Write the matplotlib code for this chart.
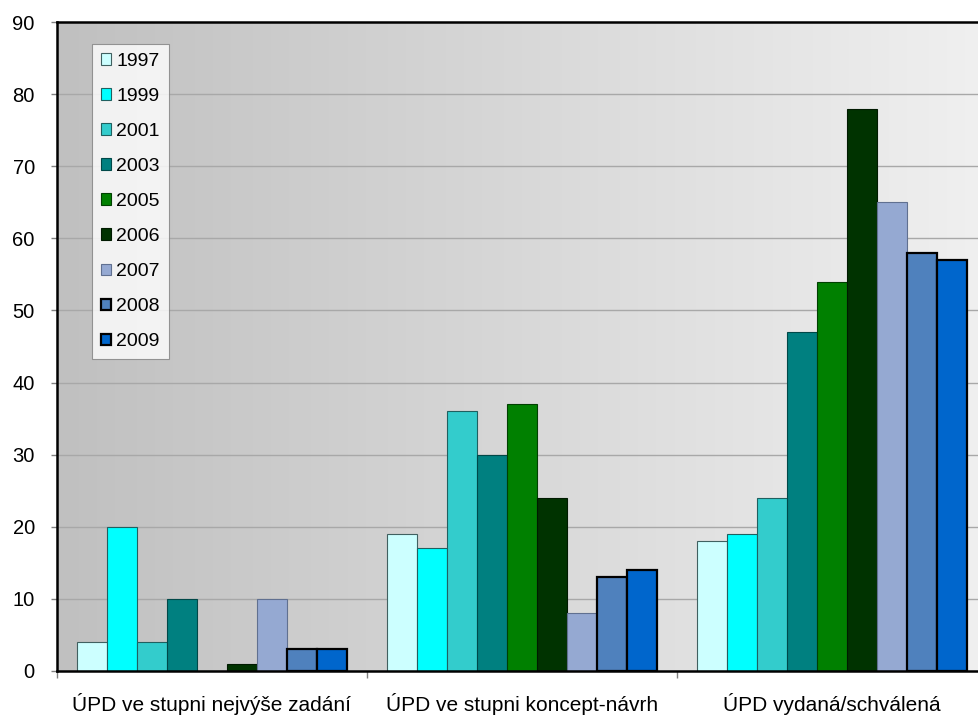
import matplotlib.pyplot as plt
import numpy as np
from matplotlib.colors import LinearSegmentedColormap

plt.rcParams['font.family'] = ['Liberation Sans', 'DejaVu Sans']

categories = ["ÚPD ve stupni nejvýše zadání", "ÚPD ve stupni koncept-návrh", "ÚPD vydaná/schválená"]
years = ["1997", "1999", "2001", "2003", "2005", "2006", "2007", "2008", "2009"]
values = {
    "1997": [4, 19, 18],
    "1999": [20, 17, 19],
    "2001": [4, 36, 24],
    "2003": [10, 30, 47],
    "2005": [0, 37, 54],
    "2006": [1, 24, 78],
    "2007": [10, 8, 65],
    "2008": [3, 13, 58],
    "2009": [3, 14, 57],
}
colors = ["#CCFFFF", "#00FFFF", "#33CCCC", "#008080", "#008000",
          "#003300", "#95A9D2", "#4F81BD", "#0066CC"]
edges = ["#406060", "#206060", "#1F6060", "#004848", "#004000",
         "#001A00", "#607090", "#000000", "#000000"]
widths = [0.8, 0.8, 0.8, 0.8, 0.8, 0.8, 0.8, 1.6, 1.6]

W, H = 979, 716
fig = plt.figure(figsize=(W / 100, H / 100), dpi=100)
x0, x1, ytop, ybot = 57, 987, 22, 671
ax = fig.add_axes([x0 / W, 1 - ybot / H, (x1 - x0) / W, (ybot - ytop) / H])

n_cat = len(categories)
ax.set_xlim(0, n_cat)
ax.set_ylim(0, 90)

grad = LinearSegmentedColormap.from_list("bg", ["#C0C0C0", "#F0F0F0"])
ax.imshow(np.linspace(0, 1, 256).reshape(1, -1), cmap=grad, aspect="auto",
          extent=[0, n_cat, 0, 90], zorder=0)

for y in range(10, 90, 10):
    ax.axhline(y, color="#A8A8A8", lw=1.0, zorder=1)

bw = 0.0967
start = 0.5 - bw * len(years) / 2
centers = np.arange(n_cat)
for i, yr in enumerate(years):
    ax.bar(centers + start + bw * (i + 0.5), values[yr], width=bw,
           color=colors[i], edgecolor=edges[i], linewidth=widths[i],
           label=yr, zorder=3)

ax.set_yticks(range(0, 91, 10))
ax.tick_params(axis="y", labelsize=14.5, length=4, width=1, color="#808080", pad=12)
ax.set_xticks(centers + 0.5)
ax.set_xticklabels(categories, fontsize=15)
ax.tick_params(axis="x", which="major", length=0, pad=16)
ax.set_xticks(np.arange(0, n_cat + 1), minor=True)
ax.tick_params(axis="x", which="minor", length=5, width=1, color="#808080")

for s in ["top", "left", "bottom"]:
    ax.spines[s].set_linewidth(1.8)
    ax.spines[s].set_color("black")
ax.spines["right"].set_visible(False)
ax.spines["left"].set_zorder(5)
ax.spines["bottom"].set_zorder(5)

leg = ax.legend(loc="upper left", bbox_to_anchor=(92 / W, 1 - 44 / H),
                bbox_transform=fig.transFigure, borderaxespad=0,
                fontsize=14, frameon=True, fancybox=False,
                handlelength=0.55, handleheight=0.55, handletextpad=0.25,
                labelspacing=0.93, borderpad=0.45)
leg.get_frame().set_edgecolor("#808080")
leg.get_frame().set_linewidth(0.8)
leg.set_zorder(6)

fig.savefig("out.png", dpi=100)
